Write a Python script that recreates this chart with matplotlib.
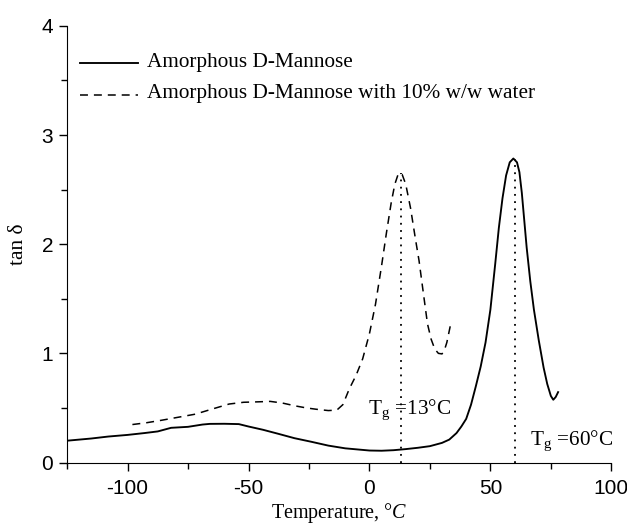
import matplotlib
matplotlib.use("Agg")
import matplotlib.pyplot as plt
from matplotlib.ticker import MultipleLocator

plt.rcParams['mathtext.fontset'] = 'custom'
plt.rcParams['mathtext.rm'] = 'Liberation Serif'
plt.rcParams['mathtext.it'] = 'Liberation Serif:italic'
plt.rcParams['axes.unicode_minus'] = False

series_names = ['Amorphous D-Mannose', 'Amorphous D-Mannose with 10% w/w water']

# Amorphous D-Mannose (solid)
dry_temp = [-125, -115, -108, -100, -93, -87.5, -82, -75, -69, -66, -60, -54, -50, -44, -38, -31, -24, -17, -10, -5, 0, 5, 10, 15, 20, 25, 30, 33, 36, 38, 40, 42, 44, 46, 48, 50, 52, 53.5, 55, 56.5, 58, 59.5, 61, 62, 63, 64, 65, 66.5, 68, 70, 72, 73.5, 75, 76, 77, 78]
dry_tan = [0.20, 0.22, 0.238, 0.253, 0.27, 0.285, 0.318, 0.327, 0.348, 0.354, 0.355, 0.352, 0.33, 0.30, 0.265, 0.223, 0.19, 0.155, 0.13, 0.12, 0.11, 0.108, 0.113, 0.123, 0.135, 0.15, 0.18, 0.21, 0.27, 0.33, 0.40, 0.53, 0.70, 0.88, 1.10, 1.40, 1.82, 2.15, 2.42, 2.63, 2.75, 2.785, 2.75, 2.66, 2.47, 2.22, 1.97, 1.66, 1.40, 1.12, 0.87, 0.72, 0.61, 0.575, 0.60, 0.645]

# Amorphous D-Mannose with 10% w/w water (dashed)
wet_temp = [-98, -92, -86, -79, -72, -65, -58, -52, -46, -41, -36, -30.5, -26, -22, -17, -13.5, -11, -8.3, -5.5, -2.8, 0, 2.5, 5, 7, 9, 10.5, 12, 13.5, 15, 17, 19, 20.5, 22, 24, 25.5, 27, 28.5, 30, 31, 32, 33.5]
wet_tan = [0.348, 0.365, 0.387, 0.415, 0.443, 0.49, 0.536, 0.552, 0.556, 0.56, 0.545, 0.518, 0.50, 0.488, 0.476, 0.48, 0.53, 0.676, 0.80, 0.95, 1.18, 1.45, 1.80, 2.10, 2.38, 2.55, 2.65, 2.64, 2.55, 2.33, 2.05, 1.85, 1.60, 1.27, 1.13, 1.04, 1.00, 0.995, 1.03, 1.10, 1.26]

tg_values = [13, 60]
tg_peaks = [2.65, 2.785]
tg_labels = [r"T$_\mathrm{g}$ =13°C", r"T$_\mathrm{g}$ =60°C"]
tg_label_pos = [(-0.7, 0.44), (66.5, 0.16)]

fig = plt.figure(figsize=(6.27, 5.28), dpi=100)
ax = fig.add_axes([0.107, 0.124, 0.868, 0.827])

ax.plot(dry_temp, dry_tan, color='black', lw=1.35, solid_joinstyle='round')
ax.plot(wet_temp, wet_tan, color='black', lw=1.1, dashes=(5.2, 3.9))

for t, p in zip(tg_values, tg_peaks):
    ax.plot([t, t], [0, p], color='black', lw=1.3, ls=(0, (1, 3)))
for lab, (x, y) in zip(tg_labels, tg_label_pos):
    ax.text(x, y, lab, fontsize=15.3, family='Liberation Serif', ha='left', va='baseline')

# legend drawn in data coordinates
leg_y = [3.66, 3.37]
leg_styles = [dict(lw=1.35), dict(lw=1.1, dashes=(5.2, 3.9))]
for name, y, st in zip(series_names, leg_y, leg_styles):
    ax.plot([-119.5, -95.6], [y, y], color='black', **st)
    ax.text(-92.0, y - 0.035, name, fontsize=15.3, family='Liberation Serif',
            ha='left', va='baseline')

ax.set_xlim(-125, 100)
ax.set_ylim(0, 4)
ax.xaxis.set_major_locator(MultipleLocator(50))
ax.xaxis.set_minor_locator(MultipleLocator(25))
ax.yaxis.set_major_locator(MultipleLocator(1))
ax.yaxis.set_minor_locator(MultipleLocator(0.5))
ax.spines['top'].set_visible(False)
ax.spines['right'].set_visible(False)
ax.tick_params(which='major', direction='out', length=6, width=1, labelsize=15, pad=4)
ax.tick_params(axis='x', which='major', pad=6)
ax.tick_params(which='minor', direction='out', length=4, width=1)
for lbl in ax.get_xticklabels() + ax.get_yticklabels():
    lbl.set_family('Liberation Sans')

ax.set_xlabel(r"Temperature, °$C$", fontsize=14.5, family='Liberation Serif', labelpad=2)
ax.set_ylabel(r"tan δ", fontsize=15.5, family='Liberation Serif', labelpad=10)

fig.savefig('out.png', dpi=100)
